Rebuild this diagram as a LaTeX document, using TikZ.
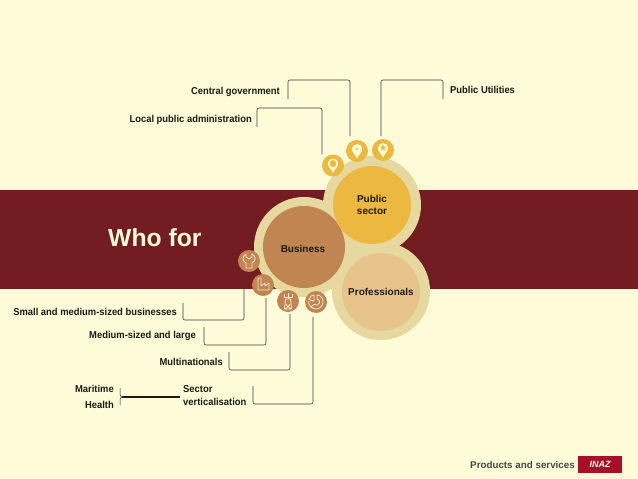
\documentclass[tikz,border=0pt]{standalone}
\usepackage{fontspec}
\setmainfont{Liberation Sans}
\newfontfamily\narrowf[FakeStretch=0.94]{Liberation Sans}
\newfontfamily\symf{DejaVu Sans}
\definecolor{bgc}{HTML}{FEFBD9}
\definecolor{bandc}{HTML}{731C21}
\definecolor{ringc}{HTML}{E6D9A0}
\definecolor{pubc}{HTML}{EDB840}
\definecolor{busc}{HTML}{C08552}
\definecolor{proc}{HTML}{E6C48C}
\definecolor{inazc}{HTML}{A8102A}
\definecolor{txtc}{HTML}{1E1A14}
\tikzset{
  lab/.style={font=\bfseries\fontsize{10}{12}\selectfont,text=txtc,inner sep=0pt},
  nlab/.style={font=\narrowf\bfseries\fontsize{10}{12.6}\selectfont,text=txtc,inner sep=0pt},
  labr/.style={nlab,anchor=east},
  labl/.style={nlab,anchor=west},
  labc/.style={lab,align=center},
  ring/.style={circle,fill=ringc,minimum size=#1,inner sep=0pt},
  core/.style={circle,minimum size=78pt,inner sep=0pt},
  ico/.style={circle,minimum size=22pt,inner sep=0pt,fill=#1},
  conn/.style={draw=txtc!85,line width=0.6pt,rounded corners=2pt},
  glyph/.style={draw=bgc!85!busc,line width=0.8pt,line join=round},
  pinshape/.pic={\fill[bgc] (0,7.5) .. controls (-1.5,3.5) and (-5.2,1.5) .. (-5.2,-2) .. controls (-5.2,-5) and (-2.8,-6.8) .. (0,-6.8) .. controls (2.8,-6.8) and (5.2,-5) .. (5.2,-2) .. controls (5.2,1.5) and (1.5,3.5) .. (0,7.5) -- cycle;}
}
\begin{document}
\begin{tikzpicture}[x=1pt,y=-1pt]
\useasboundingbox (0,0) rectangle (638,479);
\fill[bgc] (0,0) rectangle (638,479);
\fill[bandc] (0,190) rectangle (638,289);
% rings
\node[ring=98pt] (rpro) at (381,291) {};
\node[ring=100pt] (rbus) at (304,247) {};
\node[ring=98pt] (rpub) at (372,205) {};
\node[core,fill=proc] (pro) at (381,292) {};
\node[core,fill=busc,minimum size=82pt] (bus) at (304,247) {};
\node[core,fill=pubc] (pub) at (372,205) {};
\node[lab] at (pro) {Professionals};
\node[lab] at (303,249) {Business};
\node[labc] at (372,205) {Public\\sector};
\node[lab,anchor=west,text=bgc,font=\bfseries\fontsize{24.7}{28}\selectfont] (who) at (108,238) {Who for};
% icons
\node[ico=pubc] (pin1) at (333,165.5) {};
\node[ico=pubc] (pin2) at (357,151) {};
\node[ico=pubc] (pin3) at (383,150) {};
\node[ico=busc] (wr) at (249,261) {};
\node[ico=busc] (fa) at (263,285) {};
\node[ico=busc] (to) at (288,301) {};
\node[ico=busc] (pi) at (316,302) {};
% pin glyphs
\pic at (pin1) {pinshape};
\pic at (pin2) {pinshape};
\pic at (pin3) {pinshape};
\fill[pubc] ([yshift=1.8pt]pin1.center) ellipse[x radius=3.2pt,y radius=3.6pt];
\fill[pubc] ([yshift=2.2pt]pin2.center) circle[radius=1.2pt];
\node[inner sep=0pt,text=pubc,font=\symf\fontsize{10}{10}\selectfont] at ([yshift=2.2pt]pin3.center) {★};
% wrench
\begin{scope}[shift={(wr)}]
\draw[glyph] (-3,-7) .. controls (-7,-5) and (-7,0) .. (-3,2) -- (-3,7) -- (3,7) -- (3,2) .. controls (7,0) and (7,-5) .. (3,-7) -- (3,-4) -- (0,-2) -- (-3,-4) -- cycle;
\end{scope}
% factory
\begin{scope}[shift={(fa)}]
\draw[glyph] (-5,-7) -- (-5,5) -- (6,5) -- (6,-2) -- (2,1) -- (2,-2) -- (-2,1) -- (-2,-7) -- cycle;
\end{scope}
% tower
\begin{scope}[shift={(to)}]
\draw[glyph] (-2.5,-2) -- (2.5,-2) -- (3.5,8) -- (-3.5,8) -- cycle;
\draw[glyph] (-2.5,3) -- (2.5,8) (2.5,3) -- (-2.5,8);
\draw[glyph] (0,-8) -- (0,-2) (-4,-7) -- (-4,-4) -- (4,-4) -- (4,-7);
\end{scope}
% pie
\begin{scope}[shift={(pi)}]
\draw[glyph] (1,-7) -- (1,-3) .. controls (3,-3) and (4,-1) .. (3.5,1) .. controls (3,3) and (0,4) .. (-2,2.5) -- (-5,5) .. controls (-8,2) and (-7.5,0) .. (-7,-1) -- (-7,-1) (1,-7) .. controls (5,-7) and (7.5,-3) .. (7,0) .. controls (7,4) and (3,7) .. (0,7) .. controls (-2,7) and (-4,6) .. (-5,5);
\draw[glyph] (-7,-2.5) -- (-2,-1) -- (-2,-7) -- (-5,-6) -- cycle;
\end{scope}
% labels
\node[labr] (cg) at (280,91.5) {Central government};
\node[labr] (lp) at (252,119.5) {Local public administration};
\node[labl] (pu) at (450,90) {Public Utilities};
\node[labr] (sm) at (177,312) {Small and medium-sized businesses};
\node[labr] (ml) at (196,336) {Medium-sized and large};
\node[labr] (mn) at (223,362) {Multinationals};
\node[labr] (mar) at (114,389) {Maritime};
\node[labr] (hea) at (114,405) {Health};
\node[nlab,align=left,anchor=west] (sv) at (183,395.5) {Sector\\verticalisation};
% connector ends
\coordinate (cga) at (288,99);
\coordinate (cgb) at (350,136);
\coordinate (lpa) at (257,127);
\coordinate (lpb) at (322,154);
\coordinate (pua) at (443,99);
\coordinate (pub2) at (381,136);
\coordinate (sma) at (183,303);
\coordinate (smb) at (244,272);
\coordinate (mla) at (204,327);
\coordinate (mlb) at (266,298);
\coordinate (mna) at (229,352);
\coordinate (mnb) at (290,314);
\coordinate (sva) at (253,386);
\coordinate (svb) at (313,317);
\draw[conn] (cga) |- (cgb |- 0,80) -- (cgb);
\draw[conn] (lpa) |- (lpb |- 0,108) -- (lpb);
\draw[conn] (pua) |- (pub2 |- 0,80) -- (pub2);
\draw[conn] (sma) |- (smb |- 0,320) -- (smb);
\draw[conn] (mla) |- (mlb |- 0,345) -- (mlb);
\draw[conn] (mna) |- (mnb |- 0,370) -- (mnb);
\draw[conn] (sva) |- (svb |- 0,404) -- (svb);
% brace
\coordinate (br) at (121.5,397);
\coordinate (brb) at (180,397);
\draw[txtc,line width=0.5pt] (120,388) -- (120,395) -- (br) -- (120,399) -- (120,405);
\draw[txtc,line width=1.2pt] (br) -- (brb);
% footer
\node[labr,font=\bfseries\fontsize{9.8}{12}\selectfont,text=txtc!80] (ps) at (575,465) {Products and services};
\node[fill=inazc,minimum width=44pt,minimum height=17pt,inner sep=0pt,text=bgc,font=\bfseries\itshape\fontsize{9}{10}\selectfont] (inaz) at (600,464.5) {INAZ};
\end{tikzpicture}
\end{document}
